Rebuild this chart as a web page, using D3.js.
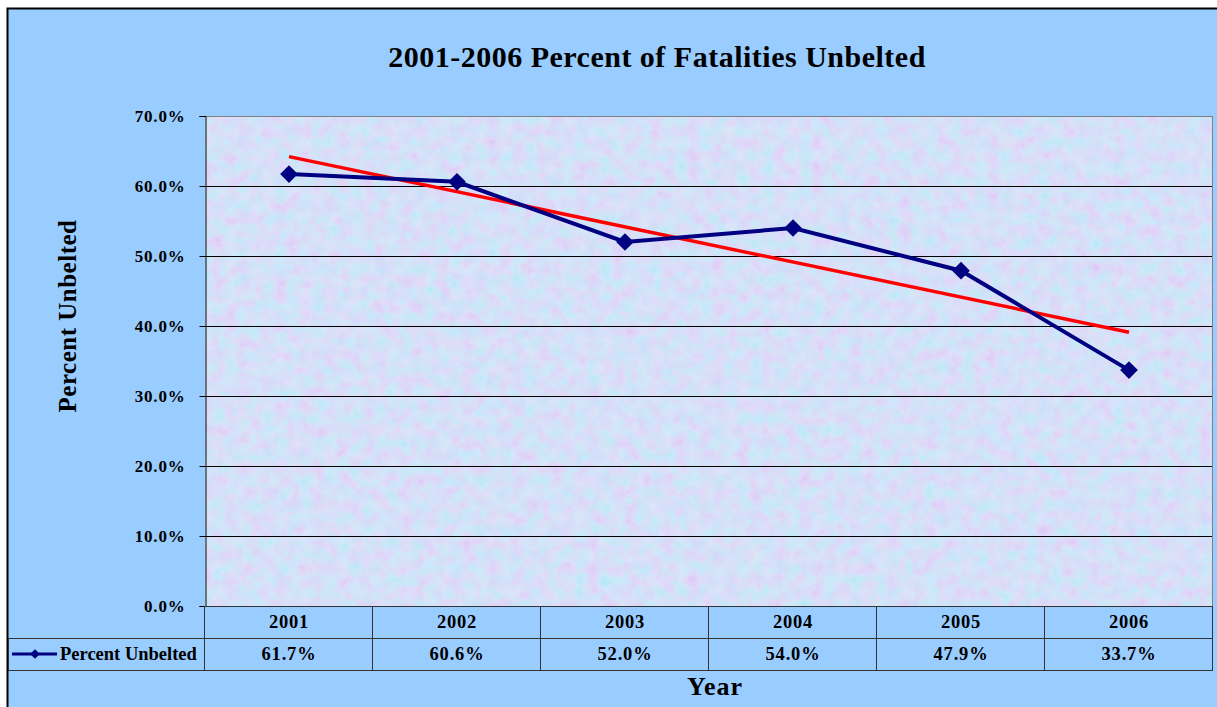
<!DOCTYPE html>
<html>
<head>
<meta charset="utf-8">
<script src="https://cdn.jsdelivr.net/npm/d3@7"></script>
<style>
  body { margin: 0; background: #fff; }
  text { font-family: "Liberation Serif", "Times New Roman", serif; font-weight: bold; fill: #000; }
</style>
</head>
<body>
<div id="chart"></div>
<script>
    // chart data
    const years = ["2001", "2002", "2003", "2004", "2005", "2006"]
    const unbelted = [61.7, 60.6, 52.0, 54.0, 47.9, 33.7]
    const trendYears = ["2001", "2006"]
    const trendValues = [64.2, 39.1]
    const yTicks = [0, 10, 20, 30, 40, 50, 60, 70]

    const w = 1217;
    const h = 707;
    const plot = { left: 205, right: 1213, top: 116, bottom: 606 }
    const rowH = 32

    const svg = d3.select("#chart")
        .append("svg")
        .attr("width", w)
        .attr("height", h)

    // texture for the plot area
    const defs = svg.append("defs")
    const filt = defs.append("filter")
        .attr("id", "tex")
        .attr("x", 0).attr("y", 0).attr("width", "100%").attr("height", "100%")
    filt.append("feTurbulence")
        .attr("type", "fractalNoise")
        .attr("baseFrequency", 0.08)
        .attr("numOctaves", 3)
        .attr("seed", 11)
        .attr("result", "noise")
    filt.append("feColorMatrix")
        .attr("in", "noise")
        .attr("type", "matrix")
        .attr("values", "0.8 -0.4 0 0 0.64  -0.4 0.6 0 0 0.78  0 0 0.1 0 0.92  0 0 0 0 0.5")

    // outer frame
    svg.append("rect")
        .attr("x", 7.5).attr("y", 8.5)
        .attr("width", w).attr("height", h)
        .attr("fill", "#99ccff")
        .attr("stroke", "#000")
        .attr("stroke-width", 2)

    svg.append("rect")
        .attr("x", plot.left).attr("y", plot.top)
        .attr("width", plot.right - plot.left).attr("height", plot.bottom - plot.top)
        .attr("fill", "#bfd0f4")
    svg.append("rect")
        .attr("x", plot.left).attr("y", plot.top)
        .attr("width", plot.right - plot.left).attr("height", plot.bottom - plot.top)
        .attr("filter", "url(#tex)")

    const x = d3.scaleBand()
        .domain(years)
        .range([plot.left, plot.right])
    const cx = d => x(d) + x.bandwidth() / 2

    const y = d3.scaleLinear()
        .domain([0, 70])
        .range([plot.bottom, plot.top])

    // gridlines
    svg.append("g")
        .selectAll("line")
        .data(yTicks.slice(1))
        .enter()
        .append("line")
        .attr("x1", plot.left).attr("x2", plot.right)
        .attr("y1", d => Math.round(y(d)) + 0.5)
        .attr("y2", d => Math.round(y(d)) + 0.5)
        .attr("stroke", d => d == 70 ? "#808080" : "#000")
        .attr("stroke-width", 1)

    svg.append("line")
        .attr("x1", plot.right - 0.5).attr("x2", plot.right - 0.5)
        .attr("y1", plot.top).attr("y2", plot.bottom)
        .attr("stroke", "#808080")

    // y axis
    const yAxis = svg.append("g")
        .attr("transform", `translate(${plot.left + 0.5},0)`)
        .call(d3.axisLeft(y)
            .tickValues(yTicks)
            .tickFormat(d => d.toFixed(1) + "%")
            .tickSize(6)
            .tickPadding(14))
    yAxis.select(".domain").attr("stroke", "#000")
    yAxis.selectAll(".tick line").attr("stroke", "#000")
    yAxis.selectAll("text")
        .attr("font-family", "Liberation Serif, serif")
        .attr("font-size", 17)
        .attr("font-weight", "bold")
        .attr("letter-spacing", 0.8)
        .attr("fill", "#000")

    // trend line
    svg.append("line")
        .attr("x1", cx(trendYears[0])).attr("y1", y(trendValues[0]))
        .attr("x2", cx(trendYears[1])).attr("y2", y(trendValues[1]))
        .attr("stroke", "#ff0000")
        .attr("stroke-width", 3.5)

    // series
    const line = d3.line()
        .x((d, i) => cx(years[i]))
        .y(d => y(d))
    svg.append("path")
        .datum(unbelted)
        .attr("d", line)
        .attr("fill", "none")
        .attr("stroke", "#000080")
        .attr("stroke-width", 4)

    const diamond = d3.symbol().type(d3.symbolDiamond2).size(200)
    svg.selectAll(".pt")
        .data(unbelted)
        .enter()
        .append("path")
        .attr("class", "pt")
        .attr("d", diamond)
        .attr("transform", (d, i) => `translate(${cx(years[i])},${y(d)})`)
        .attr("fill", "#000080")

    // data table
    const table = svg.append("g")
    const tb = { top: plot.bottom, mid: plot.bottom + rowH, bot: plot.bottom + rowH * 2 }
    table.append("line")
        .attr("x1", plot.left).attr("x2", plot.right)
        .attr("y1", tb.top + 0.5).attr("y2", tb.top + 0.5)
        .attr("stroke", "#333")
    table.selectAll(".hl")
        .data([tb.mid, tb.bot])
        .enter()
        .append("line")
        .attr("x1", 8).attr("x2", plot.right)
        .attr("y1", d => d + 0.5).attr("y2", d => d + 0.5)
        .attr("stroke", "#333")
    table.selectAll(".vl")
        .data(years.concat(["end"]))
        .enter()
        .append("line")
        .attr("x1", d => (d == "end" ? plot.right : x(d)) - 0.5)
        .attr("x2", d => (d == "end" ? plot.right : x(d)) - 0.5)
        .attr("y1", tb.top).attr("y2", tb.bot)
        .attr("stroke", "#333")
    table.append("line")
        .attr("x1", 8.5).attr("x2", 8.5)
        .attr("y1", tb.mid).attr("y2", tb.bot)
        .attr("stroke", "#333")

    table.selectAll(".yr")
        .data(years)
        .enter()
        .append("text")
        .attr("x", d => cx(d))
        .attr("y", tb.top + 22)
        .attr("text-anchor", "middle")
        .attr("font-size", 18.5)
        .attr("letter-spacing", 0.8)
        .text(d => d)

    table.selectAll(".val")
        .data(unbelted)
        .enter()
        .append("text")
        .attr("x", (d, i) => cx(years[i]))
        .attr("y", tb.mid + 22)
        .attr("text-anchor", "middle")
        .attr("font-size", 18.5)
        .attr("letter-spacing", 0.8)
        .text(d => d.toFixed(1) + "%")

    // legend key
    table.append("line")
        .attr("x1", 12).attr("x2", 57)
        .attr("y1", tb.mid + 16).attr("y2", tb.mid + 16)
        .attr("stroke", "#000080")
        .attr("stroke-width", 3)
    table.append("path")
        .attr("d", d3.symbol().type(d3.symbolDiamond2).size(60))
        .attr("transform", `translate(35,${tb.mid + 16})`)
        .attr("fill", "#000080")
    table.append("text")
        .attr("x", 60)
        .attr("y", tb.mid + 22)
        .attr("font-size", 18.5)
        .text("Percent Unbelted")

    // titles
    svg.append("text")
        .attr("x", 657)
        .attr("y", 67)
        .attr("text-anchor", "middle")
        .attr("font-size", 30)
        .attr("letter-spacing", 0.5)
        .text("2001-2006 Percent of Fatalities Unbelted")

    svg.append("text")
        .attr("transform", "translate(76,316) rotate(-90)")
        .attr("text-anchor", "middle")
        .attr("font-size", 25)
        .attr("letter-spacing", 0.5)
        .text("Percent Unbelted")

    svg.append("text")
        .attr("x", 715)
        .attr("y", 695)
        .attr("text-anchor", "middle")
        .attr("font-size", 26)
        .attr("letter-spacing", 1)
        .text("Year")
</script>
</body>
</html>
